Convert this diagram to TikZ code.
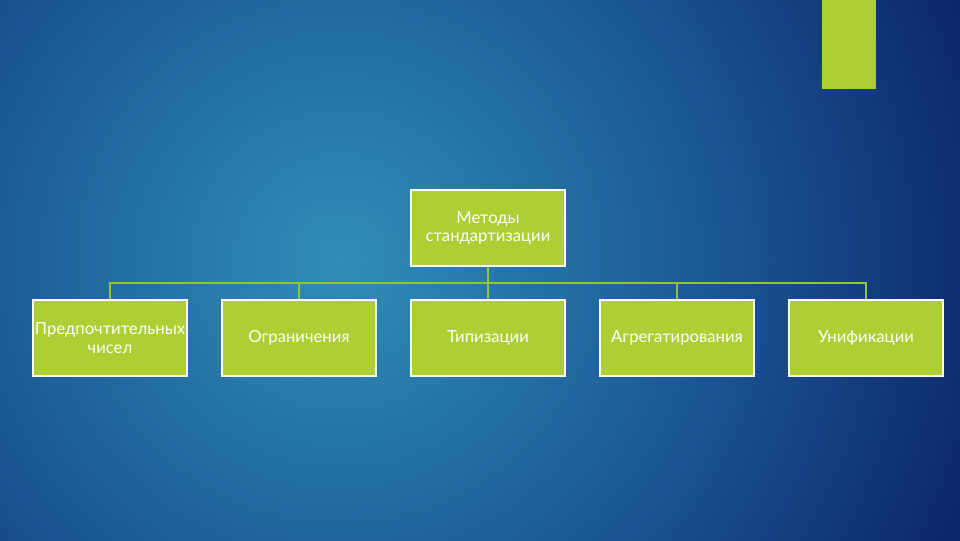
\documentclass[tikz,border=0pt]{standalone}
\usepackage{fontspec}
\setmainfont{Lato}
\usetikzlibrary{positioning}
\definecolor{lime}{RGB}{172,207,52}
\definecolor{linkgreen}{RGB}{150,196,50}
\definecolor{glowA}{RGB}{48,142,182}
\definecolor{glowB}{RGB}{38,120,168}
\definecolor{glowC}{RGB}{26,82,146}
\definecolor{glowD}{RGB}{12,40,104}
\pgfdeclareradialshading{glow}{\pgfpoint{0bp}{0bp}}{color(0bp)=(glowA); color(5.5bp)=(glowB); color(14bp)=(glowC); color(23bp)=(glowD); color(50bp)=(glowD)}

\begin{document}
\begin{tikzpicture}[x=0.75pt,y=-0.75pt,
    box/.style={draw=white,line width=1.5pt,fill=lime,text=white,minimum width=115.5pt,minimum height=57pt,inner sep=0pt,align=center,font=\fontsize{12.5}{14}\selectfont},
    link/.style={draw=linkgreen,line width=1.2pt},
    node distance=24pt and 24.75pt]
    \useasboundingbox (0,0) rectangle (960,540);
    \fill[glowD] (-10,-10) rectangle (970,550);
    \begin{scope}
        \clip (-10,-10) rectangle (970,550);
        \shade[shading=glow] (340,260) circle (720);
    \end{scope}
    \fill[lime] (822,-10) rectangle (876,89);

    \node[box] (top) at (488,228) {Методы\\стандартизации};
    \node[box, below=of top] (b3) {Типизации};
    \node[box, left=of b3] (b2) {Ограничения};
    \node[box, left=of b2] (b1) {Предпочтительных\\чисел};
    \node[box, right=of b3] (b4) {Агрегатирования};
    \node[box, right=of b4] (b5) {Унификации};
    \foreach \b in {b1,b2,b3,b4,b5}
        \draw[link] (top.south) -- ++(0,-12pt) -| (\b.north);
\end{tikzpicture}
\end{document}
